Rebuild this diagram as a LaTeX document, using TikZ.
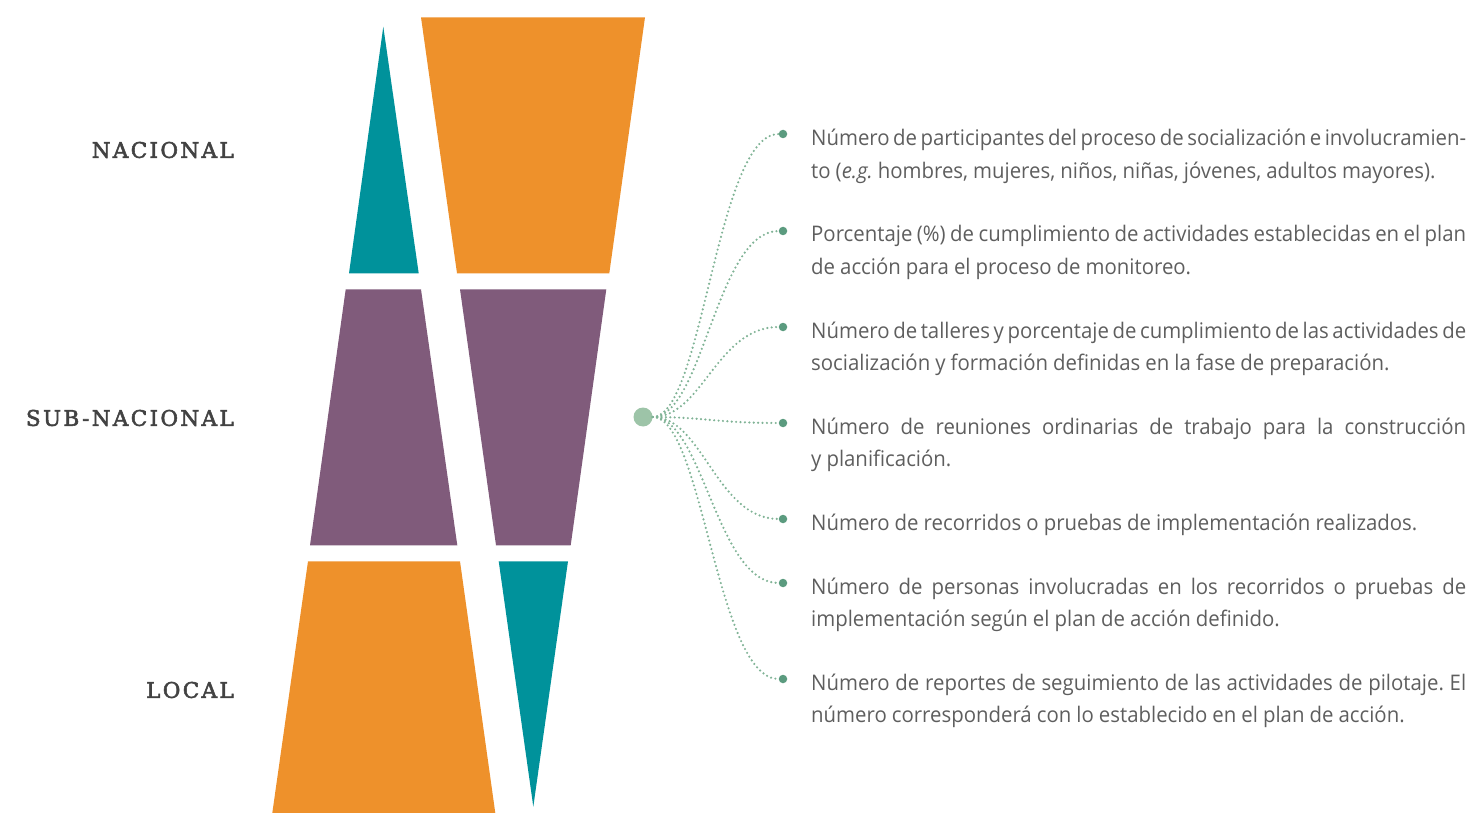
\documentclass[tikz,border=0pt]{standalone}
\usepackage{fontspec}
\setmainfont{Open Sans}[FakeStretch=0.948]
\newfontfamily\labelfont{DejaVu Serif}[LetterSpace=11,FakeBold=2.5]
\definecolor{teal1}{HTML}{00929B}
\definecolor{orange1}{HTML}{EE912B}
\definecolor{purple1}{HTML}{805B7B}
\definecolor{hubgreen}{HTML}{9DC4A8}
\definecolor{dotgreen}{HTML}{5B9B7F}
\definecolor{linegreen}{HTML}{80B396}
\definecolor{txtgray}{HTML}{5E5E5E}
\definecolor{lblgray}{HTML}{424242}
\newcommand\tsp{\spaceskip=0.235em plus 0.6em minus 0.13em\xspaceskip=0.235em plus 0.6em minus 0.1em\relax}
\newcommand\fullline[1]{\hbox to 655pt{\tsp #1}}
\begin{document}
\begin{tikzpicture}[x=1pt,y=-1pt,
  lbl/.style={font=\labelfont\fontsize{21.5}{24}\selectfont, text=lblgray, anchor=east, inner sep=0pt},
  txt/.style={font={\fontsize{21.5}{32.5}\selectfont\frenchspacing}, text=txtgray, anchor=base west, inner sep=0pt, text width=660pt, align=left},
  enddot/.style={circle, fill=dotgreen, inner sep=0pt, minimum size=8.5pt},
  hubdot/.style={circle, fill=hubgreen, inner sep=0pt, minimum size=19pt},
  link/.style={linegreen, line width=2.4pt, line cap=round, dash pattern=on 0pt off 4.4pt}
]
\useasboundingbox (0,0) rectangle (1476,813);
% shapes
\fill[teal1] (383.3,26.7) -- (418.7,273.3) -- (349,273.3) -- cycle;
\fill[orange1] (421,17.3) -- (645,17.3) -- (609.3,273.3) -- (457,273.3) -- cycle;
\fill[purple1] (345.7,289.3) -- (421,289.3) -- (457.3,545.3) -- (310,545.3) -- cycle;
\fill[purple1] (460,289.3) -- (606.3,289.3) -- (570.7,545.3) -- (496,545.3) -- cycle;
\fill[orange1] (308,561.3) -- (460,561.3) -- (495.3,813) -- (272.3,813) -- cycle;
\fill[teal1] (498.7,561.3) -- (568,561.3) -- (533.3,806.7) -- cycle;
% labels
\node[lbl] (nac) at (234,150) {NACIONAL};
\node[lbl] (sub) at (234,418) {SUB-NACIONAL};
\node[lbl] (loc) at (234,690) {LOCAL};
% hub and dots
\node[hubdot] (hub) at (643,417) {};
\foreach \i/\y in {1/134,2/231,3/327,4/423,5/519,6/583,7/679}{
  \node[enddot] (d\i) at (783,\y) {};
}
\foreach \i in {1,...,7}{
  \draw[link] (hub.east) .. controls +(50,0) and +(-62,0) .. (d\i.west);
}
% texts
\node[txt] (t1) at (811,146) {\tsp\fullline{Número de participantes del proceso de socialización e involucramien-}\\to (\textit{e.g.} hombres, mujeres, niños, niñas, jóvenes, adultos mayores).};
\node[txt] (t2) at (811,242) {\tsp\fullline{Porcentaje (\%) de cumplimiento de actividades establecidas en el plan}\\de acción para el proceso de monitoreo.};
\node[txt] (t3) at (811,338) {\tsp\fullline{Número de talleres y porcentaje de cumplimiento de las actividades de}\\socialización y formación definidas en la fase de preparación.};
\node[txt] (t4) at (811,434) {\tsp\fullline{Número de reuniones ordinarias de trabajo para la construcción}\\y planificación.};
\node[txt] (t5) at (811,530) {\tsp Número de recorridos o pruebas de implementación realizados.};
\node[txt] (t6) at (811,594) {\tsp\fullline{Número de personas involucradas en los recorridos o pruebas de}\\implementación según el plan de acción definido.};
\node[txt] (t7) at (811,690) {\tsp\fullline{Número de reportes de seguimiento de las actividades de pilotaje. El}\\número corresponderá con lo establecido en el plan de acción.};
\end{tikzpicture}
\end{document}
